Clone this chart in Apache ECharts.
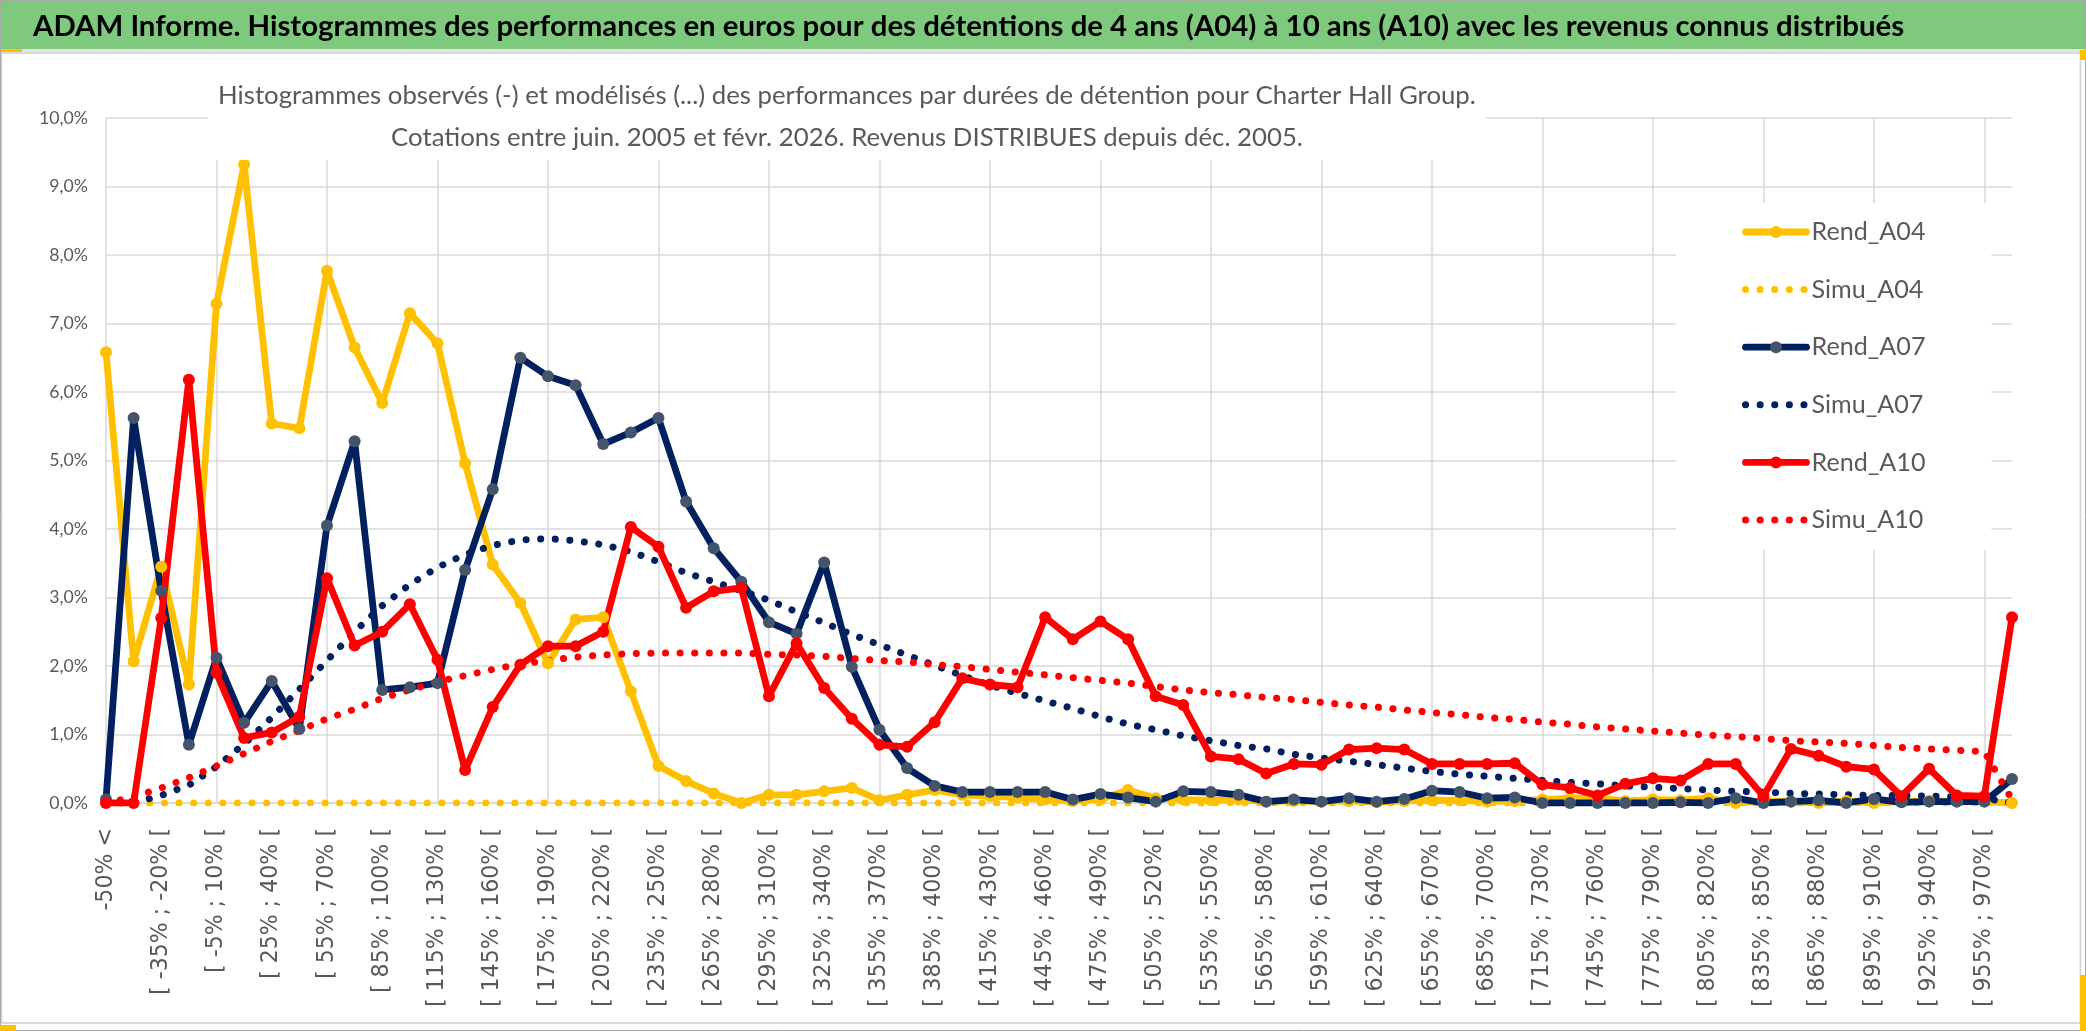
<!DOCTYPE html>
<html>
<head>
<meta charset="utf-8">
<script src="https://cdn.jsdelivr.net/npm/echarts@6/dist/echarts.min.js"></script>
<style>
html,body{margin:0;padding:0;background:#fff;}
#chart{width:2086px;height:1031px;}
</style>
</head>
<body>
<div id="chart"></div>
<script>
// ---------------- DATA ----------------
const TITLE = "ADAM Informe. Histogrammes des performances en euros pour des détentions de 4 ans (A04) à 10 ans (A10) avec les revenus connus distribués";
const SUBTITLE_1 = "Histogrammes observés (-) et modélisés (...) des performances par durées de détention pour Charter Hall Group.";
const SUBTITLE_2 = "Cotations entre juin. 2005 et févr. 2026. Revenus DISTRIBUES depuis déc. 2005.";

const CATEGORIES = [
  "-50% <",
  "[ -50% ; -35% [", "[ -35% ; -20% [", "[ -20% ; -5% [", "[ -5% ; 10% [",
  "[ 10% ; 25% [", "[ 25% ; 40% [", "[ 40% ; 55% [", "[ 55% ; 70% [",
  "[ 70% ; 85% [", "[ 85% ; 100% [", "[ 100% ; 115% [", "[ 115% ; 130% [",
  "[ 130% ; 145% [", "[ 145% ; 160% [", "[ 160% ; 175% [", "[ 175% ; 190% [",
  "[ 190% ; 205% [", "[ 205% ; 220% [", "[ 220% ; 235% [", "[ 235% ; 250% [",
  "[ 250% ; 265% [", "[ 265% ; 280% [", "[ 280% ; 295% [", "[ 295% ; 310% [",
  "[ 310% ; 325% [", "[ 325% ; 340% [", "[ 340% ; 355% [", "[ 355% ; 370% [",
  "[ 370% ; 385% [", "[ 385% ; 400% [", "[ 400% ; 415% [", "[ 415% ; 430% [",
  "[ 430% ; 445% [", "[ 445% ; 460% [", "[ 460% ; 475% [", "[ 475% ; 490% [",
  "[ 490% ; 505% [", "[ 505% ; 520% [", "[ 520% ; 535% [", "[ 535% ; 550% [",
  "[ 550% ; 565% [", "[ 565% ; 580% [", "[ 580% ; 595% [", "[ 595% ; 610% [",
  "[ 610% ; 625% [", "[ 625% ; 640% [", "[ 640% ; 655% [", "[ 655% ; 670% [",
  "[ 670% ; 685% [", "[ 685% ; 700% [", "[ 700% ; 715% [", "[ 715% ; 730% [",
  "[ 730% ; 745% [", "[ 745% ; 760% [", "[ 760% ; 775% [", "[ 775% ; 790% [",
  "[ 790% ; 805% [", "[ 805% ; 820% [", "[ 820% ; 835% [", "[ 835% ; 850% [",
  "[ 850% ; 865% [", "[ 865% ; 880% [", "[ 880% ; 895% [", "[ 895% ; 910% [",
  "[ 910% ; 925% [", "[ 925% ; 940% [", "[ 940% ; 955% [", "[ 955% ; 970% [",
  "> 970%"
];

const Y_TICK_LABELS = ["0,0%","1,0%","2,0%","3,0%","4,0%","5,0%","6,0%","7,0%","8,0%","9,0%","10,0%"];

// values in percent
const REND_A04 = [
  6.58, 2.07, 3.45, 1.73, 7.29, 9.32, 5.54, 5.47, 7.77, 6.65,
  5.84, 7.15, 6.71, 4.96, 3.48, 2.92, 2.04, 2.68, 2.71, 1.63,
  0.54, 0.32, 0.14, 0.00, 0.12, 0.12, 0.17, 0.22, 0.04, 0.12,
  0.19, 0.12, 0.10, 0.08, 0.05, 0.03, 0.05, 0.19, 0.07, 0.05,
  0.04, 0.05, 0.02, 0.03, 0.02, 0.03, 0.01, 0.03, 0.04, 0.04,
  0.02, 0.03, 0.05, 0.07, 0.07, 0.03, 0.05, 0.04, 0.07, 0.00,
  0.03, 0.02, 0.00, 0.03, 0.00, 0.02, 0.03, 0.02, 0.02, 0.00
];
const SIMU_A04 = [
  0, 0, 0, 0, 0, 0, 0, 0, 0, 0,
  0, 0, 0, 0, 0, 0, 0, 0, 0, 0,
  0, 0, 0, 0, 0, 0, 0, 0, 0, 0,
  0, 0, 0, 0, 0, 0, 0, 0, 0, 0,
  0, 0, 0, 0, 0, 0, 0, 0, 0, 0,
  0, 0, 0, 0, 0, 0, 0, 0, 0, 0,
  0, 0, 0, 0, 0, 0, 0, 0, 0, 0
];
const REND_A07 = [
  0.05, 5.62, 3.10, 0.85, 2.12, 1.17, 1.78, 1.08, 4.05, 5.28,
  1.65, 1.69, 1.75, 3.40, 4.58, 6.50, 6.23, 6.10, 5.24, 5.41,
  5.62, 4.40, 3.72, 3.23, 2.64, 2.47, 3.51, 1.99, 1.07, 0.51,
  0.25, 0.16, 0.16, 0.16, 0.16, 0.05, 0.13, 0.08, 0.02, 0.17,
  0.16, 0.12, 0.02, 0.05, 0.02, 0.07, 0.02, 0.06, 0.18, 0.16,
  0.07, 0.08, 0.00, 0.00, 0.00, 0.00, 0.00, 0.01, 0.00, 0.07,
  0.00, 0.02, 0.04, 0.00, 0.06, 0.01, 0.02, 0.02, 0.02, 0.35
];
const SIMU_A07 = [
  0.00, 0.00, 0.11, 0.26, 0.53, 0.86, 1.25, 1.66, 2.08, 2.50,
  2.88, 3.19, 3.44, 3.63, 3.76, 3.84, 3.86, 3.83, 3.77, 3.67,
  3.52, 3.36, 3.23, 3.10, 2.96, 2.79, 2.63, 2.46, 2.31, 2.16,
  2.01, 1.86, 1.72, 1.60, 1.49, 1.38, 1.26, 1.15, 1.07, 0.98,
  0.91, 0.84, 0.79, 0.71, 0.66, 0.61, 0.56, 0.51, 0.46, 0.42,
  0.39, 0.36, 0.33, 0.30, 0.28, 0.25, 0.23, 0.21, 0.19, 0.17,
  0.16, 0.14, 0.13, 0.12, 0.11, 0.11, 0.10, 0.09, 0.07, 0.00
];
const REND_A10 = [
  0.00, 0.00, 2.70, 6.18, 1.90, 0.95, 1.03, 1.26, 3.28, 2.30,
  2.50, 2.90, 2.09, 0.48, 1.40, 2.02, 2.29, 2.29, 2.50, 4.03,
  3.74, 2.85, 3.09, 3.14, 1.56, 2.33, 1.68, 1.23, 0.85, 0.82,
  1.18, 1.82, 1.73, 1.69, 2.71, 2.39, 2.65, 2.39, 1.56, 1.43,
  0.68, 0.64, 0.43, 0.57, 0.56, 0.78, 0.80, 0.78, 0.57, 0.57,
  0.57, 0.58, 0.27, 0.22, 0.11, 0.28, 0.36, 0.33, 0.57, 0.57,
  0.10, 0.79, 0.69, 0.53, 0.49, 0.10, 0.50, 0.11, 0.10, 2.71
];
const SIMU_A10 = [
  0.00, 0.09, 0.22, 0.37, 0.54, 0.72, 0.90, 1.06, 1.23, 1.37,
  1.53, 1.65, 1.77, 1.86, 1.95, 2.03, 2.08, 2.13, 2.16, 2.18,
  2.19, 2.19, 2.19, 2.19, 2.17, 2.16, 2.14, 2.11, 2.08, 2.06,
  2.02, 1.99, 1.95, 1.91, 1.87, 1.83, 1.79, 1.75, 1.70, 1.65,
  1.61, 1.58, 1.54, 1.51, 1.47, 1.43, 1.40, 1.36, 1.32, 1.29,
  1.25, 1.22, 1.18, 1.15, 1.11, 1.08, 1.05, 1.02, 0.99, 0.97,
  0.94, 0.91, 0.89, 0.87, 0.84, 0.81, 0.79, 0.77, 0.75, 0.05
];

// ---------------- STYLE ----------------
const SANS = "Lato, 'Liberation Sans', sans-serif";
const WIDE = "'DejaVu Sans', 'Liberation Sans', sans-serif";
const GREY_TEXT = '#595959';
const GRID_COLOR = '#D9D9D9';
const YELLOW = '#FFC000', NAVY = '#002060', NAVY_MARK = '#44546A', RED = '#FF0000';

const mctx = document.createElement('canvas').getContext('2d');
function fitSize(text, family, weight, target) {
  mctx.font = weight + ' 100px ' + family;
  return 100 * target / mctx.measureText(text).width;
}
const titleSize = fitSize(TITLE, SANS, 'bold', 1872);
const subSize = fitSize(SUBTITLE_1, SANS, 'normal', 1258);
const legendSize = fitSize('Rend_A04', SANS, 'normal', 114);
const yLabSize = fitSize('10,0%', SANS, 'normal', 49);
const xLabSize = fitSize('[ -35% ; -20% [', WIDE, 'normal', 167);
const titleLH = Math.round(titleSize * 1.2);

const LINE_W = 6.8;
const DOT = [0.1, 14.5];

function solid(name, data, lineColor, markColor) {
  return {
    name, type: 'line', data,
    symbol: 'circle', symbolSize: 12, showAllSymbol: true,
    lineStyle: { color: lineColor, width: LINE_W, join: 'round', cap: 'round' },
    itemStyle: { color: markColor, borderWidth: 0 },
    emphasis: { disabled: true }, silent: true
  };
}
function dotted(name, data, color) {
  return {
    name, type: 'line', data,
    symbol: 'none',
    lineStyle: { color, width: 7, type: DOT, cap: 'round', join: 'round' },
    itemStyle: { color },
    emphasis: { disabled: true }, silent: true
  };
}
function legendSolid(name, lineColor, markColor) {
  return { name, itemStyle: { color: markColor, borderWidth: 0 },
           lineStyle: { color: lineColor, width: LINE_W, type: 'solid', cap: 'round' } };
}
function legendDot(name, color) {
  return { name, itemStyle: { opacity: 0, color: 'rgba(0,0,0,0)' },
           lineStyle: { color, width: 7, type: DOT, cap: 'round' } };
}

const chart = echarts.init(document.getElementById('chart'), null, { renderer: 'canvas' });
chart.setOption({
  animation: false,
  backgroundColor: '#fff',
  graphic: [
    { type: 'rect', z: -10, shape: { x: 0, y: 0, width: 2086, height: 49 }, style: { fill: '#7EC97E' } },
    { type: 'rect', z: -10, shape: { x: 0, y: 49, width: 2086, height: 4 }, style: { fill: '#E3E3E3' } },
    { type: 'rect', z: -10, shape: { x: 0, y: 49, width: 22, height: 3 }, style: { fill: YELLOW } },
    { type: 'rect', z: -10, shape: { x: 1.5, y: 53, width: 2079, height: 970 }, style: { fill: 'none', stroke: GRID_COLOR, lineWidth: 2 } },
    { type: 'rect', z: -10, shape: { x: 0.5, y: 0.5, width: 2085, height: 1030 }, style: { fill: 'none', stroke: '#A6A6A6', lineWidth: 1 } },
    { type: 'rect', z: -10, shape: { x: 2080, y: 975, width: 6, height: 56 }, style: { fill: YELLOW } },
    { type: 'rect', z: -10, shape: { x: 2080, y: 50, width: 6, height: 10 }, style: { fill: YELLOW } },
    { type: 'rect', z: -10, shape: { x: 0, y: 1025, width: 16, height: 6 }, style: { fill: YELLOW } }
  ],
  title: [
    {
      text: TITLE, left: 33, top: 27 - titleLH / 2, padding: 0, textAlign: 'left',
      textStyle: { fontFamily: SANS, fontWeight: 'bold', fontSize: titleSize, color: '#000', lineHeight: titleLH }
    },
    {
      text: SUBTITLE_1 + '\n' + SUBTITLE_2, left: 837, top: 72, textAlign: 'center',
      backgroundColor: '#fff', padding: [3, 10, 1, 10],
      textStyle: { fontFamily: SANS, fontWeight: 'normal', fontSize: subSize, color: GREY_TEXT, lineHeight: 42 }
    }
  ],
  legend: {
    orient: 'vertical', left: 1676, top: 203,
    padding: [14, 66, 15, 66], itemGap: 27.6, itemWidth: 61, itemHeight: 15,
    backgroundColor: '#fff', selectedMode: false,
    textStyle: { fontFamily: SANS, fontSize: legendSize, color: GREY_TEXT, lineHeight: 30 },
    data: [
      legendSolid('Rend_A04', YELLOW, YELLOW), legendDot('Simu_A04', YELLOW),
      legendSolid('Rend_A07', NAVY, NAVY_MARK), legendDot('Simu_A07', NAVY),
      legendSolid('Rend_A10', RED, RED), legendDot('Simu_A10', RED)
    ]
  },
  grid: { left: 106, right: 74, top: 118, bottom: 228, containLabel: false, outerBoundsMode: 'none' },
  xAxis: {
    type: 'category', data: CATEGORIES, boundaryGap: false,
    axisLine: { show: true, lineStyle: { color: GRID_COLOR, width: 1.5 } },
    axisTick: { show: false },
    axisLabel: { interval: 1, rotate: 90, margin: 25, fontFamily: WIDE, fontSize: xLabSize, color: GREY_TEXT },
    splitLine: { show: true, interval: 3, lineStyle: { color: GRID_COLOR, width: 1.5 } }
  },
  yAxis: {
    type: 'value', min: 0, max: 10, interval: 1,
    axisLine: { show: false }, axisTick: { show: false },
    axisLabel: { margin: 18, fontFamily: SANS, fontSize: yLabSize, color: GREY_TEXT,
                 formatter: v => Y_TICK_LABELS[Math.round(v)] },
    splitLine: { show: true, lineStyle: { color: GRID_COLOR, width: 1.5 } }
  },
  series: [
    solid('Rend_A04', REND_A04, YELLOW, YELLOW),
    dotted('Simu_A04', SIMU_A04, YELLOW),
    solid('Rend_A07', REND_A07, NAVY, NAVY_MARK),
    dotted('Simu_A07', SIMU_A07, NAVY),
    solid('Rend_A10', REND_A10, RED, RED),
    dotted('Simu_A10', SIMU_A10, RED)
  ]
});
</script>
</body>
</html>
